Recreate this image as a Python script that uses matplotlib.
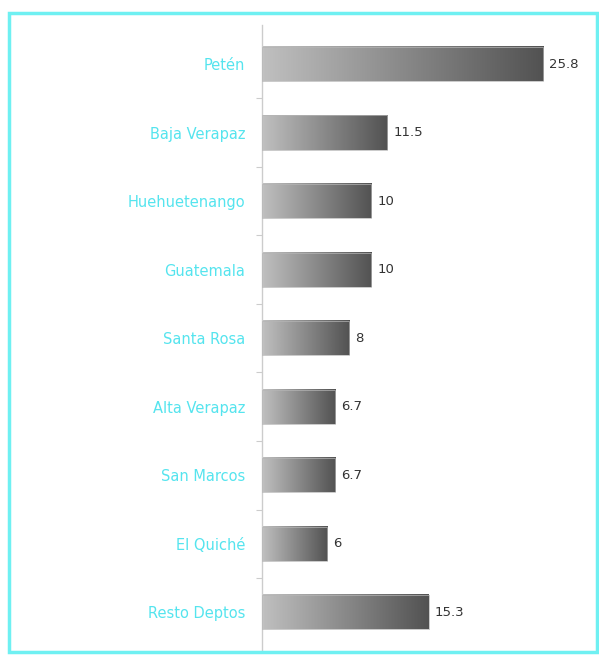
import numpy as np
import matplotlib.pyplot as plt
from matplotlib.patches import Rectangle

deptos = ['Petén', 'Baja Verapaz', 'Huehuetenango', 'Guatemala', 'Santa Rosa',
          'Alta Verapaz', 'San Marcos', 'El Quiché', 'Resto Deptos']
valores = [25.8, 11.5, 10, 10, 8, 6.7, 6.7, 6, 15.3]
etiquetas = ['25.8', '11.5', '10', '10', '8', '6.7', '6.7', '6', '15.3']

fig = plt.figure(figsize=(5.99, 6.58), dpi=100)
ax = fig.add_axes([262/599, 8/658, 336/599, 625/658])

# degradado gris claro -> gris oscuro dentro de cada barra
grad = np.linspace(0, 1, 256).reshape(1, -1)
cmap = plt.matplotlib.colors.LinearSegmentedColormap.from_list('gris', ['#c0c0c0', '#525252'])

ind = np.arange(len(deptos))
alto = 0.5
for i, v in enumerate(valores):
    ax.imshow(grad, extent=[0, v, i - alto/2, i + alto/2], cmap=cmap,
              aspect='auto', interpolation='bicubic', zorder=2)
    ax.add_patch(Rectangle((0, i - alto/2), v, alto, fill=False,
                           edgecolor='#b5b5b5', linewidth=0.5, zorder=3))
    ax.text(v + 0.55, i, etiquetas[i], va='center', ha='left',
            fontsize=9.5, color='#333333')

ax.set_xlim(0, 30.8)
ax.set_ylim(len(deptos) - 0.45, -0.57)
ax.set_yticks(ind)
ax.set_yticklabels(deptos, color='#55e4ee', fontsize=10.5)
ax.set_yticks(ind[:-1] + 0.5, minor=True)
ax.tick_params(axis='y', which='major', length=0, pad=12)
ax.tick_params(axis='y', which='minor', length=4, color='#cccccc', width=0.8)
ax.set_xticks([])
for s in ['top', 'right', 'bottom']:
    ax.spines[s].set_visible(False)
ax.spines['left'].set_color('#cccccc')
ax.spines['left'].set_linewidth(1.0)
ax.set_facecolor('none')

# marco cian alrededor del gráfico
fig.patches.append(Rectangle((9/599, 6/658), 588/599, 639/658, transform=fig.transFigure,
                             fill=False, edgecolor='#6ff0f2', linewidth=2.5))

fig.savefig('out.png', dpi=100)
